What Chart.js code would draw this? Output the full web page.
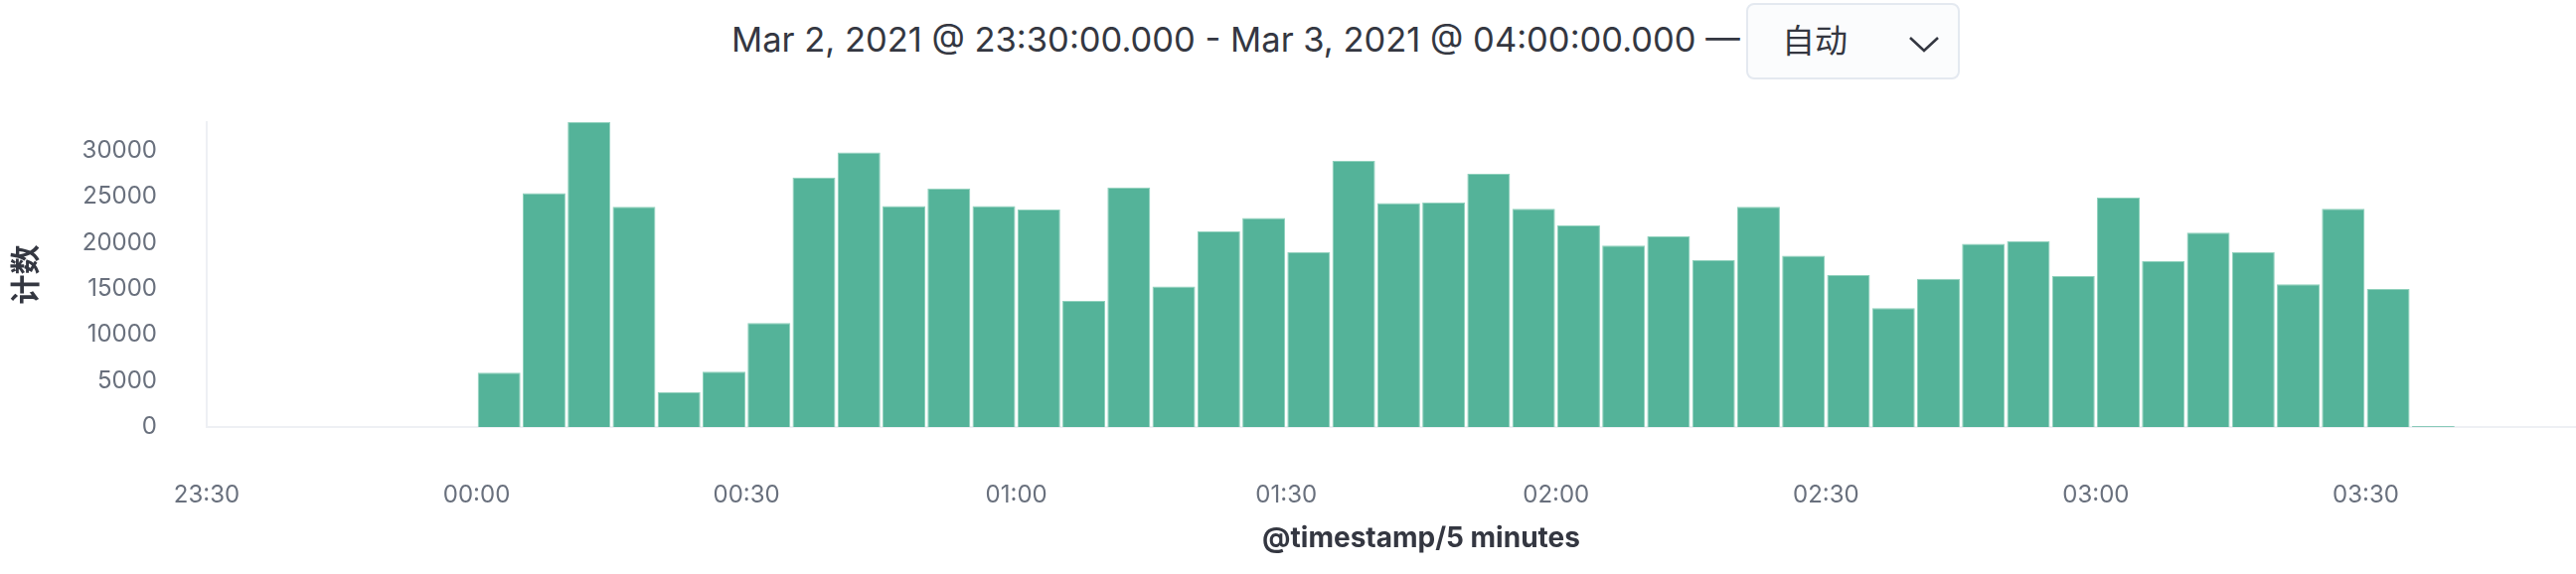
<!DOCTYPE html>
<html>
<head>
<meta charset="utf-8">
<script src="https://cdn.jsdelivr.net/npm/chart.js@4.4.1/dist/chart.umd.min.js"></script>
<style>
  html, body { margin: 0; padding: 0; background: #fff; overflow: hidden; }
  body { width: 2592px; height: 578px; position: relative; font-family: Inter, "Noto Sans CJK SC", sans-serif; }
  #range {
    position: absolute; left: 736px; top: 22px;
    font-size: 34.5px; line-height: 35px; color: #343741; white-space: nowrap;
  }
  #interval {
    position: absolute; left: 1757px; top: 3px; width: 211px; height: 73px;
    border: 2px solid #e4e9f0; border-radius: 8px; background: #fbfcfd;
  }
  #interval span {
    position: absolute; left: 34px; top: 19px; font-size: 33px; line-height: 35px; color: #343741;
  }
  #interval svg { position: absolute; left: 161px; top: 31px; }
  #wrap { position: absolute; left: 0; top: 0; width: 2700px; height: 578px; }
</style>
</head>
<body>
<div id="range">Mar 2, 2021 @ 23:30:00.000 - Mar 3, 2021 @ 04:00:00.000 —</div>
<div id="interval">
  <span>自动</span>
  <svg width="32" height="18" viewBox="0 0 32 18"><polyline points="2,2 16,15 30,2" fill="none" stroke="#343741" stroke-width="2.6"/></svg>
</div>
<div id="wrap"><canvas id="histogram" width="2700" height="578"></canvas></div>

<script>
// 5 minute buckets (start time) and document counts
const buckets = [
  '00:00', '00:05', '00:10', '00:15', '00:20', '00:25', '00:30', '00:35', '00:40', '00:45', '00:50', '00:55',
  '01:00', '01:05', '01:10', '01:15', '01:20', '01:25', '01:30', '01:35', '01:40', '01:45', '01:50', '01:55',
  '02:00', '02:05', '02:10', '02:15', '02:20', '02:25', '02:30', '02:35', '02:40', '02:45', '02:50', '02:55',
  '03:00', '03:05', '03:10', '03:15', '03:20', '03:25', '03:30', '03:35'
];
const counts = [
  5900, 25400, 33100, 23900, 3800, 6000, 11300, 27100, 29800, 24000, 25900, 24000,
  23600, 13700, 26000, 15250, 21250, 22700, 19000, 28900, 24300, 24400, 27500, 23700,
  21900, 19700, 20700, 18100, 23900, 18600, 16500, 12900, 16100, 19900, 20200, 16400,
  24900, 18000, 21100, 19000, 15500, 23700, 15000, 120
];
const xTickLabels = ['23:30', '00:00', '00:30', '01:00', '01:30', '02:00', '02:30', '03:00', '03:30'];
const yTickValues = [0, 5000, 10000, 15000, 20000, 25000, 30000];
const rangeStart = '23:30';
const rangeEnd = '04:00';
const bucketMinutes = 5;

// minutes since range start (handles crossing midnight)
const toMin = (t) => {
  const [h, m] = t.split(':').map(Number);
  const [h0, m0] = rangeStart.split(':').map(Number);
  let d = h * 60 + m - (h0 * 60 + m0);
  if (d < 0) d += 24 * 60;
  return d;
};
const fmt = (v) => {
  const [h0, m0] = rangeStart.split(':').map(Number);
  const total = (h0 * 60 + m0 + v) % (24 * 60);
  const h = Math.floor(total / 60), m = total % 60;
  return String(h).padStart(2, '0') + ':' + String(m).padStart(2, '0');
};

const points = buckets.map((b, i) => ({ x: toMin(b) + bucketMinutes / 2, y: counts[i] }));

const tickFont = { family: 'Inter, "Noto Sans CJK SC", sans-serif', size: 24 };
const titleFont = { family: 'Inter, "Noto Sans CJK SC", sans-serif', size: 28, weight: 'bold' };

new Chart(document.getElementById('histogram'), {
  type: 'bar',
  data: {
    datasets: [{
      data: points,
      backgroundColor: '#54b399',
      borderColor: '#8fd1bc',
      borderWidth: 1,
      categoryPercentage: 1,
      barPercentage: 0.95
    }]
  },
  options: {
    responsive: false,
    animation: false,
    layout: { padding: { left: 0, top: 123, right: 48, bottom: 0 } },
    plugins: { legend: { display: false }, tooltip: { enabled: false } },
    scales: {
      x: {
        type: 'linear',
        offset: false,
        min: toMin(rangeStart),
        max: toMin(rangeEnd),
        grid: { display: false, offset: false },
        border: { display: true, color: '#eef0f4', width: 2 },
        afterBuildTicks: (scale) => { scale.ticks = xTickLabels.map(t => ({ value: toMin(t) })); },
        afterFit: (scale) => { scale.height = 148; },
        ticks: {
          autoSkip: false, maxRotation: 0, padding: 46,
          color: '#69707d', font: tickFont,
          callback: (v) => fmt(v)
        },
        title: {
          display: true, text: '@timestamp/5 minutes',
          color: '#343741', font: titleFont, padding: { top: 0, bottom: 19 }
        }
      },
      y: {
        min: 0,
        max: Math.max(...counts),
        grid: { display: false },
        border: { display: true, color: '#eef0f4', width: 2 },
        afterBuildTicks: (scale) => { scale.ticks = yTickValues.map(v => ({ value: v })); },
        afterFit: (scale) => { scale.width = 208; },
        ticks: { padding: 42, color: '#69707d', font: tickFont, callback: (v) => String(v) },
        title: {
          display: true, text: '计数',
          color: '#343741', font: { family: '"Noto Sans CJK SC", sans-serif', size: 30, weight: 'bold' },
          padding: { top: 7, bottom: 0 }
        }
      }
    }
  }
});
</script>
</body>
</html>
